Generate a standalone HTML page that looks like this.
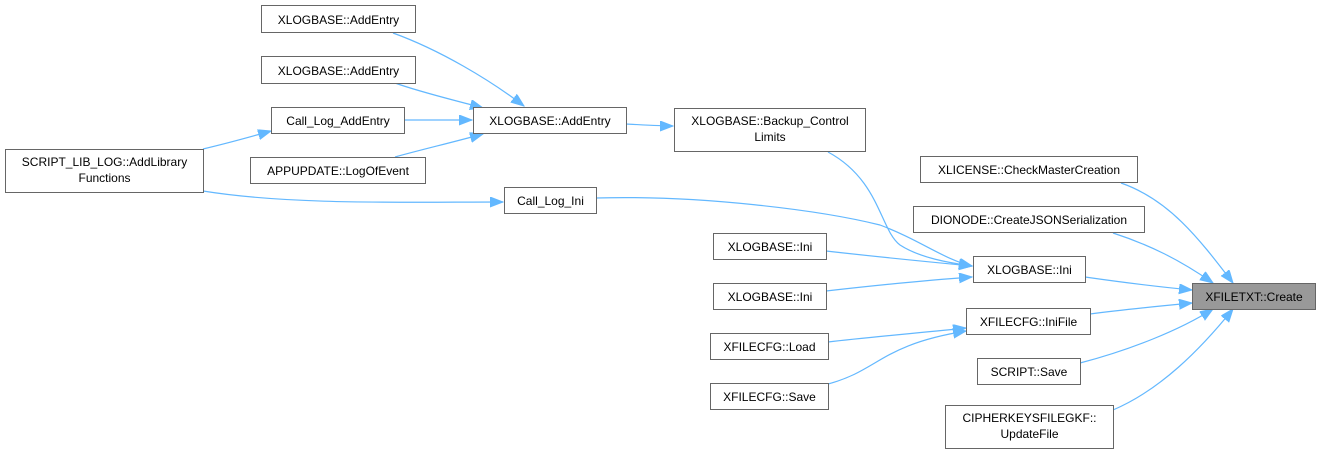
<!DOCTYPE html>
<html><head><meta charset="utf-8"><style>
body{margin:0;background:#fff;width:1321px;height:457px;overflow:hidden}
svg{position:absolute;left:0;top:0}
text{font-family:"Liberation Sans",Arial,sans-serif;font-size:12px;fill:#000}
.b{fill:#fff;stroke:#666;stroke-width:1}
.e{fill:none;stroke:#63b8ff;stroke-width:1.2}
.a{fill:#63b8ff;stroke:#63b8ff}
</style></head><body>
<svg width="1321" height="457" viewBox="0 0 1321 457">
<defs><marker id="m" markerWidth="14" markerHeight="12" refX="13" refY="5" orient="auto" markerUnits="userSpaceOnUse"><path d="M0,0 L13,5 L0,10 z" class="a"/></marker></defs>
<path class="e" marker-end="url(#m)" d="M393,33 C440,50 490,80 524,106"/>
<path class="e" marker-end="url(#m)" d="M395,83 C420,92 450,99 483,108"/>
<path class="e" marker-end="url(#m)" d="M404,120 L472,120"/>
<path class="e" marker-end="url(#m)" d="M395,157 C420,150 450,143 483,134"/>
<path class="e" marker-end="url(#m)" d="M203,149 C220,145 250,137 271,131"/>
<path class="e" marker-end="url(#m)" d="M203,191 C290,205 400,202 503,202"/>
<path class="e" marker-end="url(#m)" d="M626,124 C645,125 660,126 673,126"/>
<path class="e" marker-end="url(#m)" d="M828,152 C880,180 880,230 900,245 C920,258 950,263 972,266"/>
<path class="e" marker-end="url(#m)" d="M596,198 C700,195 820,210 880,225 C920,240 945,260 972,266"/>
<path class="e" marker-end="url(#m)" d="M826,251 C870,256 930,262 972,266"/>
<path class="e" marker-end="url(#m)" d="M826,291 C870,286 930,280 972,277"/>
<path class="e" marker-end="url(#m)" d="M828,342 C870,337 930,332 966,328"/>
<path class="e" marker-end="url(#m)" d="M828,384 C880,370 880,345 966,331"/>
<path class="e" marker-end="url(#m)" d="M1121,183 C1170,200 1200,240 1233,283"/>
<path class="e" marker-end="url(#m)" d="M1113,233 C1150,245 1180,260 1213,283"/>
<path class="e" marker-end="url(#m)" d="M1085,277 C1120,282 1160,287 1192,290"/>
<path class="e" marker-end="url(#m)" d="M1090,314 C1120,310 1160,306 1192,303"/>
<path class="e" marker-end="url(#m)" d="M1080,363 C1130,350 1180,330 1213,309"/>
<path class="e" marker-end="url(#m)" d="M1113,410 C1160,390 1200,350 1233,309"/>
<rect class="b" x="261.5" y="5.5" width="154" height="27"/><text x="338.5" y="24" text-anchor="middle">XLOGBASE::AddEntry</text>
<rect class="b" x="261.5" y="56.5" width="154" height="27"/><text x="338.5" y="75" text-anchor="middle">XLOGBASE::AddEntry</text>
<rect class="b" x="271.5" y="107.5" width="133" height="26"/><text x="338" y="125" text-anchor="middle">Call_Log_AddEntry</text>
<rect class="b" x="473.5" y="107.5" width="153" height="26"/><text x="550" y="125" text-anchor="middle">XLOGBASE::AddEntry</text>
<rect class="b" x="250.5" y="157.5" width="175" height="26"/><text x="338" y="175" text-anchor="middle">APPUPDATE::LogOfEvent</text>
<rect class="b" x="5.5" y="149.5" width="198" height="43"/><text x="104.5" y="166" text-anchor="middle">SCRIPT_LIB_LOG::AddLibrary</text><text x="104.5" y="182" text-anchor="middle">Functions</text>
<rect class="b" x="504.5" y="187.5" width="92" height="26"/><text x="550.5" y="205" text-anchor="middle">Call_Log_Ini</text>
<rect class="b" x="674.5" y="108.5" width="191" height="43"/><text x="770" y="125" text-anchor="middle">XLOGBASE::Backup_Control</text><text x="770" y="141" text-anchor="middle">Limits</text>
<rect class="b" x="920.5" y="156.5" width="217" height="26"/><text x="1029" y="174" text-anchor="middle">XLICENSE::CheckMasterCreation</text>
<rect class="b" x="913.5" y="206.5" width="231" height="26"/><text x="1029" y="224" text-anchor="middle">DIONODE::CreateJSONSerialization</text>
<rect class="b" x="973.5" y="256.5" width="112" height="26"/><text x="1029.5" y="274" text-anchor="middle">XLOGBASE::Ini</text>
<rect class="b" x="713.5" y="233.5" width="113" height="26"/><text x="770" y="251" text-anchor="middle">XLOGBASE::Ini</text>
<rect class="b" x="713.5" y="283.5" width="113" height="26"/><text x="770" y="301" text-anchor="middle">XLOGBASE::Ini</text>
<rect x="1192.5" y="283.5" width="123" height="26" fill="#999" stroke="#666"/><text x="1254" y="301" text-anchor="middle">XFILETXT::Create</text>
<rect class="b" x="966.5" y="308.5" width="124" height="26"/><text x="1028.5" y="326" text-anchor="middle">XFILECFG::IniFile</text>
<rect class="b" x="710.5" y="333.5" width="118" height="26"/><text x="769.5" y="351" text-anchor="middle">XFILECFG::Load</text>
<rect class="b" x="710.5" y="383.5" width="118" height="26"/><text x="769.5" y="401" text-anchor="middle">XFILECFG::Save</text>
<rect class="b" x="977.5" y="358.5" width="103" height="26"/><text x="1029" y="376" text-anchor="middle">SCRIPT::Save</text>
<rect class="b" x="945.5" y="405.5" width="168" height="43"/><text x="1029.5" y="422" text-anchor="middle">CIPHERKEYSFILEGKF::</text><text x="1029.5" y="438" text-anchor="middle">UpdateFile</text>
</svg>
</body></html>
